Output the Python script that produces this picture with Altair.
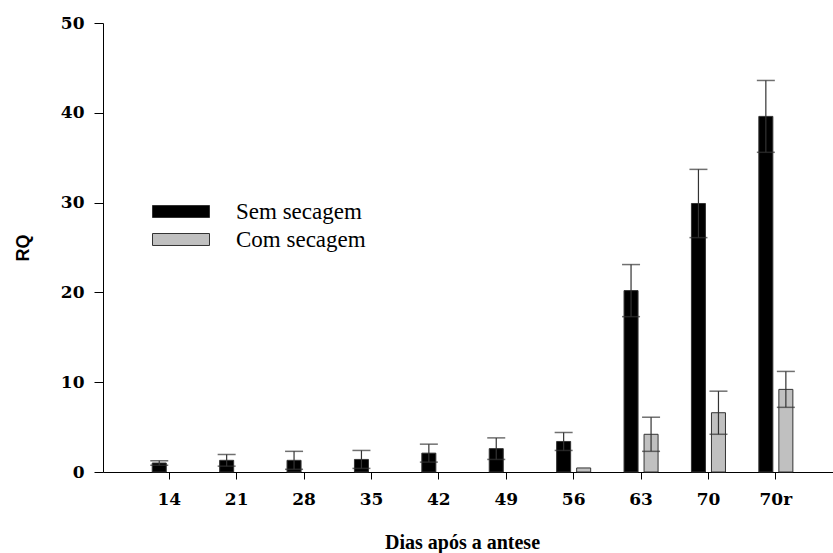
import altair as alt
import pandas as pd

categories = ["14", "21", "28", "35", "42", "49", "56", "63", "70", "70r"]
series = ["Sem secagem", "Com secagem"]
sem_values = [1.0, 1.3, 1.3, 1.4, 2.1, 2.6, 3.4, 20.2, 29.9, 39.6]
sem_se = [0.25, 0.65, 1.0, 1.0, 1.0, 1.2, 1.0, 2.9, 3.8, 4.0]
com_values = [None, None, None, None, None, None, 0.45, 4.2, 6.6, 9.2]
com_se = [None, None, None, None, None, None, 0.0, 1.9, 2.4, 2.0]

rows = []
for i, c in enumerate(categories):
    for s, vals, ses in ((series[0], sem_values, sem_se), (series[1], com_values, com_se)):
        v = vals[i]
        if v is None:
            continue
        e = ses[i]
        rows.append({"dia": c, "serie": s, "rq": v, "lo": v - e, "hi": v + e, "se": e})
df = pd.DataFrame(rows)

x = alt.X(
    "dia:N",
    sort=categories,
    scale=alt.Scale(domain=categories, paddingInner=0.495, paddingOuter=0.663, align=0.551),
    axis=alt.Axis(
        labelAngle=0, tickSize=7, labelFont="DejaVu Serif", labelFontWeight="bold",
        labelFontSize=17, labelColor="black", labelPadding=12, domainColor="black",
        tickColor="black", title="Dias após a antese", titleFont="Liberation Serif",
        titleFontWeight="bold", titleFontSize=20, titleColor="black",
        titleX=359, titleY=76, titleBaseline="alphabetic",
    ),
)
xoff = alt.XOffset("serie:N", sort=series,
                   scale=alt.Scale(domain=series, paddingInner=0.3, paddingOuter=0))

yaxis = alt.Axis(
    values=[0, 10, 20, 30, 40, 50], grid=False, tickSize=9, labelFont="DejaVu Serif",
    labelFontWeight="bold", labelFontSize=17, labelColor="black", labelPadding=10,
    labelFlush=False, domainColor="black", tickColor="black",
    titleFont="Liberation Sans", titleFontWeight="bold", titleFontSize=18,
    titleColor="black", titleX=-71, titleY=224.5, titleAlign="center",
    titleBaseline="bottom",
)
yscale = alt.Scale(domain=[0, 50])

base = alt.Chart(df)

bars = base.mark_bar(stroke="#333333", strokeWidth=1).encode(
    x=x,
    xOffset=xoff,
    y=alt.Y("rq:Q", scale=yscale, axis=yaxis, title="RQ"),
    fill=alt.Fill(
        "serie:N",
        sort=series,
        scale=alt.Scale(domain=series, range=["#000000", "#c0c0c0"]),
        legend=alt.Legend(
            title=None, orient="none", legendX=49, legendY=177.5,
            symbolType="M-1,-0.2105L1,-0.2105L1,0.2105L-1,0.2105Z",
            symbolSize=3249, symbolStrokeColor="#333333", symbolStrokeWidth=1,
            labelFont="Liberation Serif", labelFontSize=23, labelColor="black",
            labelOffset=26, clipHeight=22, rowPadding=5, padding=0, labelLimit=300,
        ),
    ),
)

errs = base.transform_filter("datum.se > 0")
rule = errs.mark_rule(color="#333333", strokeWidth=1.2).encode(
    x=x, xOffset=xoff,
    y=alt.Y("lo:Q", scale=yscale, axis=yaxis, title="RQ"),
    y2="hi:Q",
)
cap_hi = errs.mark_tick(color="#333333", thickness=1.5, size=18).encode(
    x=x, xOffset=xoff, y=alt.Y("hi:Q", scale=yscale, axis=yaxis, title="RQ"),
)
cap_lo = errs.mark_tick(color="#333333", thickness=1.5, size=18).encode(
    x=x, xOffset=xoff, y=alt.Y("lo:Q", scale=yscale, axis=yaxis, title="RQ"),
)

chart = alt.layer(bars, rule, cap_hi, cap_lo).properties(
    width=730,
    height=449,
    autosize=alt.AutoSizeParams(type="none"),
    padding={"left": 103, "top": 23, "right": 0, "bottom": 81},
    background="white",
).configure_view(stroke=None)

chart.save("out.html", embed_options={"renderer": "svg", "actions": False})
